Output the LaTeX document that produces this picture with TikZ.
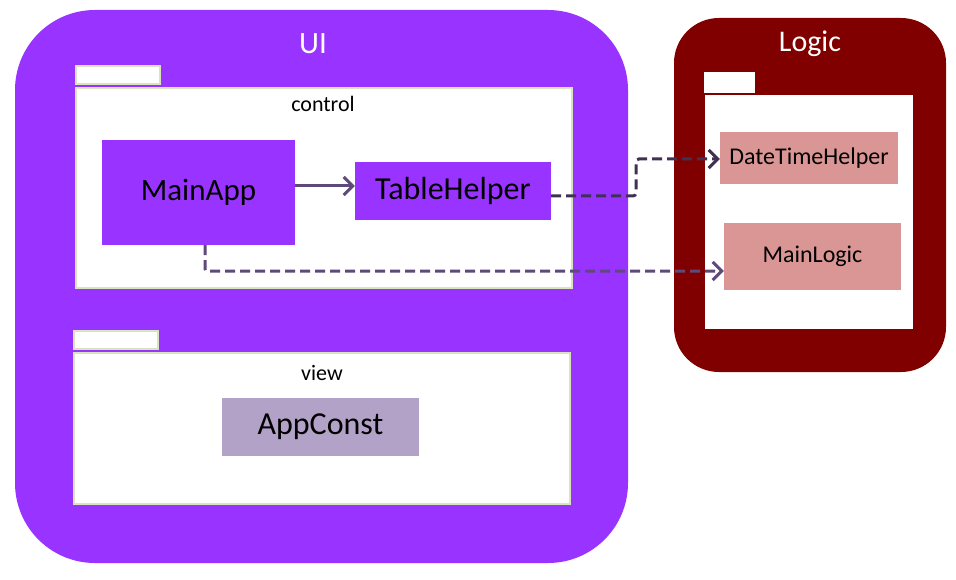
\documentclass[tikz,border=0pt]{standalone}
\usepackage{fontspec}
\setmainfont{Carlito}
\usetikzlibrary{arrows.meta}
\definecolor{uifill}{HTML}{9933FF}
\definecolor{logicfill}{HTML}{800000}
\definecolor{pkgline}{HTML}{D7E4BD}
\definecolor{constfill}{HTML}{B3A2C7}
\definecolor{logiccls}{HTML}{DA9694}
\definecolor{arrA}{HTML}{5F497A}
\definecolor{arrB}{HTML}{403152}
\tikzset{
  pkgbox/.style={draw=pkgline, line width=2pt, fill=white},
  uicls/.style={fill=uifill, inner sep=0pt, font=\fontsize{32}{36}\selectfont},
  lgcls/.style={fill=logiccls, inner sep=0pt, font=\fontsize{24}{28}\selectfont},
  dep/.style={line width=3pt, dash pattern=on 10pt off 5pt, -{Straight Barb[length=9pt,width=18pt,line width=3pt]}},
  assoc/.style={line width=3pt, -{Straight Barb[length=9pt,width=18pt,line width=3pt]}},
  title/.style={text=white, font=\fontsize{31}{35}\selectfont},
  pkglabel/.style={font=\fontsize{22}{26}\selectfont}
}
\begin{document}
\begin{tikzpicture}[x=1pt,y=-1pt]
\useasboundingbox (0,0) rectangle (956,580);
% UI package
\fill[uifill, rounded corners=80pt] (15,10) rectangle (628,563);
\node[title] (uit) at (313,44) {UI};
% control package
\draw[pkgbox] (76,66) rectangle (160,84);
\draw[pkgbox] (76,88) rectangle (572,288);
\node[pkglabel] (ctl) at (323,104) {control};
% view package
\draw[pkgbox] (74,331) rectangle (158,349);
\draw[pkgbox] (74,353) rectangle (570,504);
\node[pkglabel] (vw) at (322,373) {view};
% Logic package
\fill[logicfill, rounded corners=45pt] (674,18) rectangle (946,372);
\node[title, font=\fontsize{30}{34}\selectfont] (lgt) at (810,44) {Logic};
\fill[white] (704,72) rectangle (755,93);
\fill[white] (705,95) rectangle (913,329);
% classes
\node[uicls, font=\fontsize{31}{36}\selectfont, minimum width=193pt, minimum height=105pt] (ma) at (198.5,192.5) {MainApp};
\node[uicls, minimum width=196pt, minimum height=58pt] (th) at (453,191) {TableHelper};
\node[uicls, fill=constfill, minimum width=197pt, minimum height=58pt] (ac) at (320.5,427) {AppConst};
\node[lgcls, minimum width=178pt, minimum height=52pt] (dth) at (809,158) {DateTimeHelper};
\node[lgcls, minimum width=177pt, minimum height=67pt] (ml) at (812.5,256.5) {MainLogic};
% connectors
\draw[assoc, draw=arrA] (ma.east |- 0,186) -- (th.west |- 0,186);
\draw[dep, draw=arrB, rounded corners=3pt] (th.east |- 0,196) -- (636,196) -- (636,159) -- (dth.west |- 0,159);
\draw[dep, draw=arrA, rounded corners=2pt] (ma.south -| 205,0) -- (205,271) -- (ml.west |- 0,271);
\end{tikzpicture}
\end{document}
